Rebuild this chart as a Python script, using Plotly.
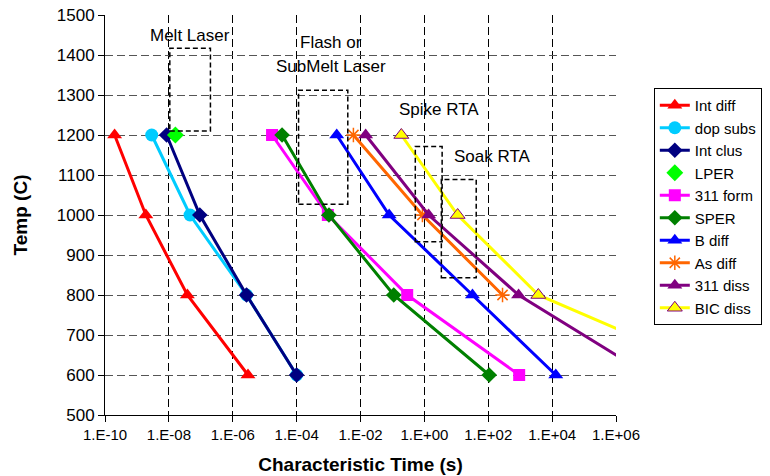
import plotly.graph_objects as go
import math

# ---- data ----
temps = [1200, 1000, 800, 600]
int_diff = [2.0e-10, 1.9e-9, 3.8e-8, 3.0e-6]
dop_subs = [2.9e-9, 4.6e-8, 2.7e-6, 1.0e-4]
int_clus = [8.5e-9, 9.3e-8, 2.7e-6, 1.0e-4]
lper_t = [1200]
lper = [1.6e-8]
form_311 = [1.7e-5, 9.5e-4, 0.29, 930]
sper = [3.5e-5, 1.03e-3, 0.11, 107]
b_diff = [1.8e-3, 0.079, 32, 1.3e4]
as_t = [1200, 1000, 800]
as_diff = [6e-3, 0.87, 280]
diss_311 = [0.0145, 1.36, 890, 1.05e7]
bic_diss = [0.19, 11, 3700, 2.5e9]

x_tickvals = [1e-10, 1e-8, 1e-6, 1e-4, 1e-2, 1e0, 1e2, 1e4, 1e6]
x_ticktext = ["1.E-10", "1.E-08", "1.E-06", "1.E-04", "1.E-02",
              "1.E+00", "1.E+02", "1.E+04", "1.E+06"]
y_tickvals = list(range(500, 1501, 100))

# process windows: (label, box [t0, t1] in seconds, [T0, T1])
windows = [
    ("Melt Laser", [1.07e-8, 2.0e-7], [1210, 1417]),
    ("Flash or SubMelt Laser", [1.15e-4, 4.0e-3], [1027, 1312]),
    ("Spike RTA", [0.52, 3.6], [933, 1171]),
    ("Soak RTA", [3.4, 42], [843, 1089]),
]
labels = [
    ("Melt Laser", 4.6e-8, 1450),
    ("Flash or", 1.2e-3, 1431),
    ("SubMelt Laser", 1.2e-3, 1371),
    ("Spike RTA", 2.95, 1264),
    ("Soak RTA", 135, 1146),
]

FONT = "Arial, Liberation Sans, sans-serif"

series = [
    ("Int diff", int_diff, temps, "#FF0000", "triangle-up", 13, None),
    ("dop subs", dop_subs, temps, "#00CCFF", "circle", 13, None),
    ("Int clus", int_clus, temps, "#000080", "diamond", 12, None),
    ("LPER", lper, lper_t, "#00FF00", "diamond", 13, None),
    ("311 form", form_311, temps, "#FF00FF", "square", 12, None),
    ("SPER", sper, temps, "#008000", "diamond", 12, None),
    ("B diff", b_diff, temps, "#0000FF", "triangle-up", 13, None),
    ("As diff", as_diff, as_t, "#FF6600", "asterisk-open", 12, None),
    ("311 diss", diss_311, temps, "#800080", "triangle-up", 13, None),
    ("BIC diss", bic_diss, temps, "#FFFF00", "triangle-up", 13, "#800080"),
]

fig = go.Figure()
for name, xs, ys, col, sym, size, outline in series:
    mode = "markers" if name == "LPER" else "lines+markers"
    marker = dict(color=col, symbol=sym, size=size)
    if outline:
        marker["line"] = dict(color=outline, width=1)
    elif sym == "asterisk-open":
        marker["line"] = dict(color=col, width=1.5)
    else:
        marker["line"] = dict(width=0)
    fig.add_trace(go.Scatter(
        x=xs, y=ys, name=name, mode=mode,
        line=dict(color=col, width=3),
        marker=marker,
    ))

for _, (t0, t1), (T0, T1) in windows:
    fig.add_shape(type="rect", xref="x", yref="y",
                  x0=t0, x1=t1, y0=T0, y1=T1,
                  line=dict(color="black", width=1.5, dash="5px,3px"),
                  fillcolor="rgba(0,0,0,0)")

for txt, t, T in labels:
    fig.add_annotation(x=math.log10(t), y=T, xref="x", yref="y", text=txt,
                       showarrow=False, font=dict(family=FONT, size=17, color="black"),
                       xanchor="center", yanchor="middle")

# page body has an 8px margin, so the figure is sized 8px smaller
fig.update_layout(
    width=762, height=468,
    margin=dict(l=97, r=154, t=7, b=61, autoexpand=False),
    paper_bgcolor="white", plot_bgcolor="white",
    font=dict(family=FONT, color="black"),
    showlegend=True,
    legend=dict(x=1.074, y=0.8175, xanchor="left", yanchor="top",
                bordercolor="black", borderwidth=1, bgcolor="white",
                font=dict(family=FONT, size=15, color="black"),
                itemwidth=30, tracegroupgap=0),
)
fig.update_xaxes(
    type="log", range=[-10, 6], automargin=False,
    tickvals=x_tickvals, ticktext=x_ticktext,
    tickfont=dict(family=FONT, size=15, color="black"),
    showline=True, linecolor="black", linewidth=1,
    ticks="outside", ticklen=6, tickcolor="black",
    showgrid=True, gridcolor="black", gridwidth=1, griddash="8px,4px",
    zeroline=False, ticklabeloverflow="allow",
    title=dict(text="<b>Characteristic Time (s)</b>", font=dict(family=FONT, size=19), standoff=15),
)
fig.update_yaxes(
    range=[500, 1500], tickvals=y_tickvals, automargin=False,
    tickfont=dict(family=FONT, size=17, color="black"),
    showline=True, linecolor="black", linewidth=1,
    ticks="outside", ticklen=6, tickcolor="black",
    showgrid=True, gridcolor="#555555", gridwidth=1, griddash="8px,4px",
    zeroline=False, ticklabeloverflow="allow",
    title=dict(text="<b>Temp (C)</b>", font=dict(family=FONT, size=19), standoff=24),
)

fig.write_html("out.html")
